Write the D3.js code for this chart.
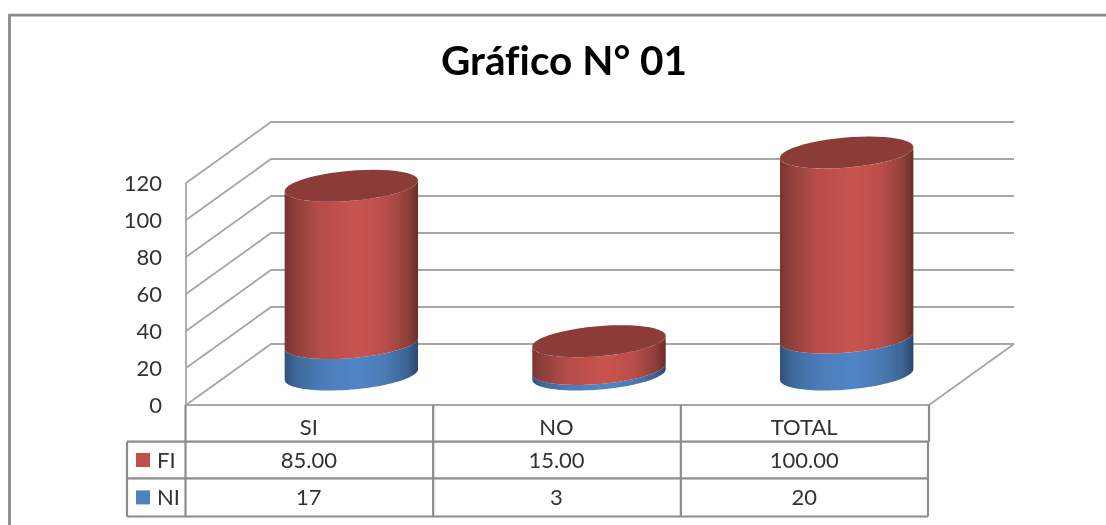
<!DOCTYPE html>
<html><head><meta charset="utf-8">
<script src="https://d3js.org/d3.v7.min.js"></script>
<style>html,body{margin:0;padding:0;background:#fff;overflow:hidden}svg{display:block}text{font-family:Lato,"Open Sans",sans-serif;font-variant-ligatures:none}</style>
</head><body><div id="c"></div>
<script>
const title = "Gráfico N° 01";
const categories = ["SI","NO","TOTAL"];
const fiValues = [85,15,100];
const niValues = [17,3,20];
const fiLabels = ["85.00","15.00","100.00"];
const niLabels = ["17","3","20"];
const yTicks = [0,20,40,60,80,100,120];

const W=1106,H=525;
const root=d3.select("#c").append("svg").attr("width",W).attr("height",H);
const defs=root.append("defs");
defs.append("filter").attr("id","soft").attr("x","0").attr("y","0").attr("width","1").attr("height","1")
  .attr("filterUnits","userSpaceOnUse").attr("x",0).attr("y",0).attr("width",W).attr("height",H)
  .append("feGaussianBlur").attr("stdDeviation",0.45);
const svg=root.append("g").attr("filter","url(#soft)");
function grad(id,stops){
  const g=defs.append("linearGradient").attr("id",id).attr("x1","0").attr("x2","1").attr("y1","0").attr("y2","0");
  stops.forEach(s=>g.append("stop").attr("offset",s[0]).attr("stop-color",s[1]));
}
grad("gr",[[0,"#7a3431"],[.1,"#94413d"],[.28,"#b84d49"],[.55,"#c9534f"],[.75,"#bb4f4b"],[.92,"#8f3f3b"],[1,"#6c2c2a"]]);
grad("gb",[[0,"#2f5479"],[.1,"#3e6a9c"],[.28,"#4b7cb8"],[.55,"#5085c6"],[.75,"#4b7bb5"],[.92,"#3c6594"],[1,"#2a476a"]]);

const GRID="#a6a6a6",TXT="#333333",TBL="#8c8c8c";
svg.append("rect").attr("width",W).attr("height",H).attr("fill","#fff");
svg.append("path").attr("d",`M9.5,${H+5}V15.2H${W+5}`).attr("fill","none").attr("stroke","#8a8a8a").attr("stroke-width",2.8);

svg.append("text").attr("x",564).attr("y",75).attr("text-anchor","middle").attr("font-size",40.5).attr("font-weight",700).attr("fill","#000").text(title);

// plot geometry
const x0=186,x1=929,yFloor=405,dx=85,dy=-61;
const y=d3.scaleLinear().domain([0,120]).range([yFloor,yFloor-222]);
const x=d3.scaleBand().domain(categories).range([x0,x1]);

const grid=svg.append("g").attr("fill","none").attr("stroke",GRID).attr("stroke-width",1.8);
yTicks.forEach(t=>{
  grid.append("path").attr("d",`M${x0},${y(t)}L${x0+dx},${y(t)+dy}L${x1+dx},${y(t)+dy}`);
});
grid.append("path").attr("d",`M${x0},${y(0)}V${y(120)}`);
grid.append("path").attr("d",`M${x1},${y(0)}L${x1+dx},${y(0)+dy}`);

svg.append("g").selectAll("text").data(yTicks).join("text")
  .attr("x",162).attr("y",d=>y(d)+8).attr("text-anchor","end").attr("font-size",22).attr("fill",TXT).text(d=>d);

// cylinders
const halfW=66.7, ry=16;
const skew=dx/Math.abs(dy)*ry;
const Ru=Math.sqrt(halfW*halfW-skew*skew);
const tTan=Math.atan2(skew,Ru);
function pt(cx,cy,t){return [cx+Ru*Math.cos(t)+skew*Math.sin(t), cy-ry*Math.sin(t)];}
function arc(cx,cy,a,b,n=48){return d3.range(n+1).map(i=>pt(cx,cy,a+(b-a)*i/n));}
const line=d3.line();
const yH=d3.scaleLinear().domain([0,120]).range([0,222]);
function side(cx,yb,yt){
  const lo=arc(cx,yb,Math.PI+tTan,2*Math.PI+tTan);
  const hi=arc(cx,yt,2*Math.PI+tTan,Math.PI+tTan);
  return line(lo)+"L"+line(hi).slice(1)+"Z";
}
const bars=svg.append("g");
categories.forEach((c,i)=>{
  const cx=x(c)+x.bandwidth()/2+dx/2-1, yb=yFloor+dy/2;
  const yn=yb-yH(niValues[i]), yf=yn-yH(fiValues[i]);
  bars.append("path").attr("d",side(cx,yb,yn)).attr("fill","url(#gb)");
  bars.append("path").attr("d",side(cx,yn,yf)).attr("fill","url(#gr)");
  bars.append("path").attr("d",line(arc(cx,yf,0,2*Math.PI))+"Z").attr("fill","#8b3a37");
});

// data table
const rows=[405,441.7,478.3,516.5], tblL=127, tblR=928;
const tbl=svg.append("g").attr("stroke",TBL).attr("stroke-width",2.2).attr("fill","none");
rows.forEach((r,i)=>tbl.append("path").attr("d",`M${i==0?x0:tblL},${r}H${i<2?x1:tblR}`).attr("stroke",i==0?GRID:TBL));
tbl.append("path").attr("d",`M${tblL},${rows[1]}V${rows[3]}`);
categories.forEach(c=>tbl.append("path").attr("d",`M${x(c)-0.5},${rows[0]}V${rows[3]}`));
tbl.append("path").attr("d",`M${x1},${rows[0]}V${rows[1]}`);
tbl.append("path").attr("d",`M${tblR},${rows[1]}V${rows[3]}`);

const baselines=[435,467.5,505];
function rowText(labels,r){
  svg.append("g").selectAll("text").data(labels).join("text")
    .attr("x",(d,i)=>x(categories[i])+x.bandwidth()/2-1).attr("y",baselines[r])
    .attr("text-anchor","middle").attr("font-size",22).attr("fill",TXT).text(d=>d);
}
rowText(categories,0);rowText(fiLabels,1);rowText(niLabels,2);

[["FI","#c0504d",1],["NI","#4f81bd",2]].forEach(([n,col,r])=>{
  const m=(rows[r]+rows[r+1])/2;
  svg.append("rect").attr("x",136).attr("y",m-7).attr("width",14).attr("height",14).attr("fill",col);
  svg.append("text").attr("x",157).attr("y",baselines[r]).attr("font-size",22).attr("fill",TXT).text(n);
});
</script></body></html>
